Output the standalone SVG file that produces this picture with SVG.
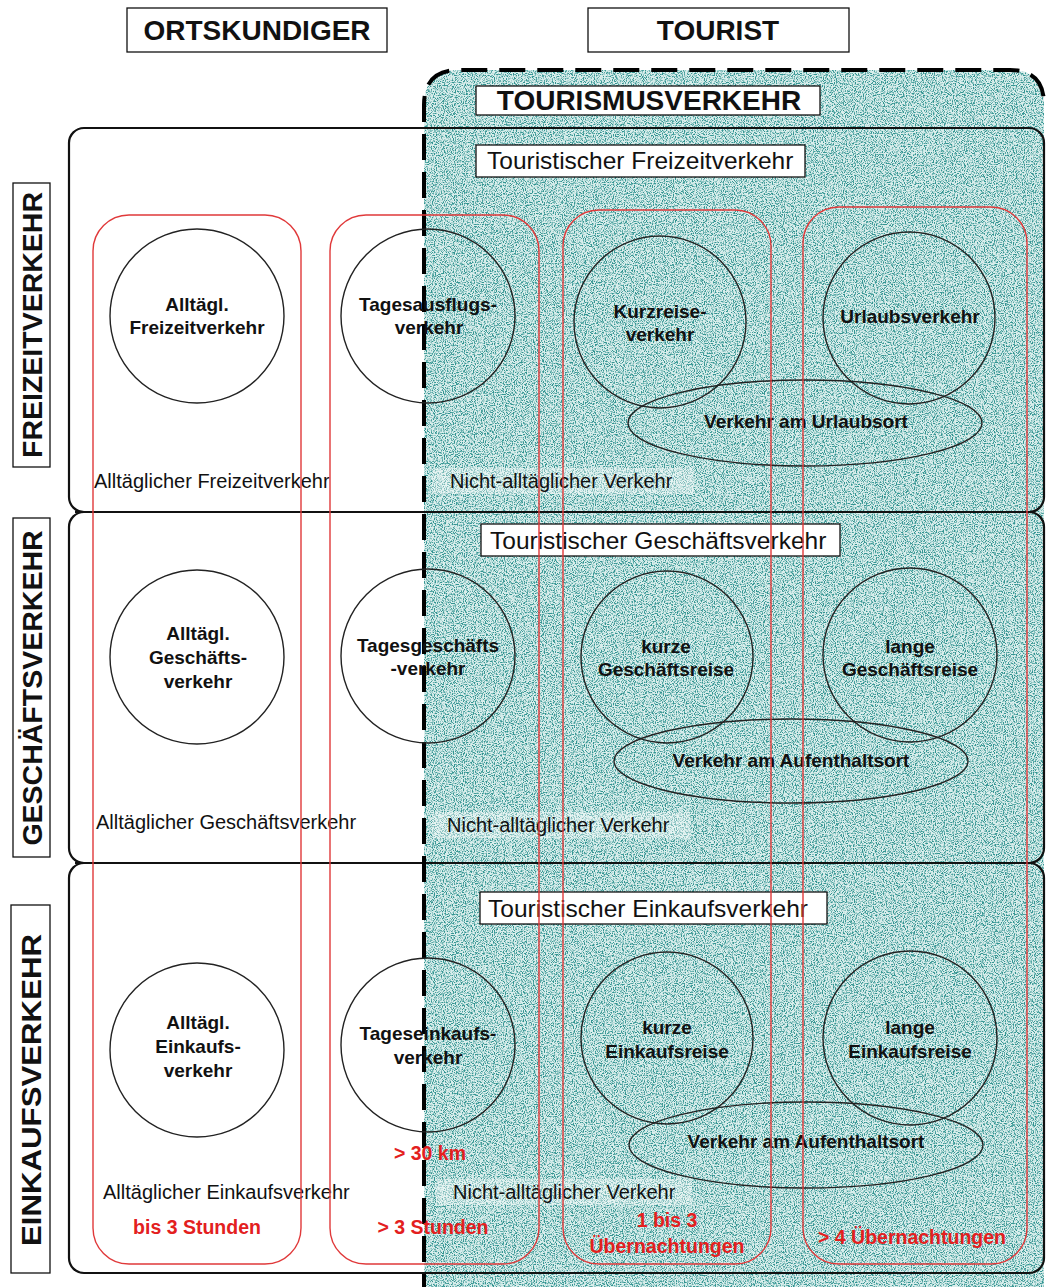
<svg xmlns="http://www.w3.org/2000/svg" width="1046" height="1287" viewBox="0 0 1046 1287">
  <style>
    text { font-family: "Liberation Sans", Arial, sans-serif; fill: #111; }
    .hdr { font-size: 28px; font-weight: bold; text-anchor: middle; }
    .side { font-size: 28.5px; font-weight: bold; text-anchor: middle; }
    .sub { font-size: 24.5px; }
    .node { font-size: 19px; font-weight: bold; text-anchor: middle; }
    .lbl { font-size: 20px; }
    .red { font-size: 19.5px; font-weight: bold; fill: #e3201e; text-anchor: middle; }
    .box { fill: #fff; stroke: #111; stroke-width: 1.3; }
    .row { fill: none; stroke: #111; stroke-width: 2.2; }
    .circ { fill: none; stroke: #222; stroke-width: 1.4; }
    .col { fill: none; stroke: #e0393a; stroke-width: 1.4; }
  </style>
  <defs>
    <filter id="grain" x="0" y="0" width="1" height="1" color-interpolation-filters="sRGB">
      <feTurbulence type="fractalNoise" baseFrequency="0.9" numOctaves="2" seed="4" result="noise"/>
      <feColorMatrix in="noise" type="matrix" values="0 0 0 0 0.2  0 0 0 0 0.58  0 0 0 0 0.57  4.5 0 0 0 -2.05" result="dots"/>
      <feComposite in="dots" in2="SourceGraphic" operator="in"/>
    </filter>
    <path id="area" d="M424 1300 L424 105 Q424 70 459 70 L1010 70 Q1044 70 1044 104 L1044 1300 Z"/>
  </defs>

  <rect width="1046" height="1287" fill="#fff"/>

  <!-- tourism area: light teal base with speckle -->
  <g id="tourism-area">
    <use href="#area" fill="#d9eeec"/>
    <use href="#area" fill="#000" filter="url(#grain)"/>
  </g>

  <!-- label strips -->
  <g id="label-strips">
    <rect x="70" y="468" width="268" height="26" fill="#fff"/>
    <rect x="432" y="468" width="262" height="26" fill="#fff" fill-opacity="0.35"/>
    <rect x="70" y="809" width="296" height="26" fill="#fff"/>
    <rect x="432" y="812" width="258" height="26" fill="#fff" fill-opacity="0.35"/>
    <rect x="70" y="1179" width="352" height="26" fill="#fff"/>
    <rect x="436" y="1179" width="256" height="26" fill="#fff" fill-opacity="0.35"/>
  </g>

  <!-- traffic-purpose rows -->
  <g id="rows">
    <rect class="row" x="69" y="128" width="975" height="384" rx="15"/>
    <rect class="row" x="69" y="512" width="975" height="351" rx="15"/>
    <rect class="row" x="69" y="863" width="975" height="410" rx="15"/>
    <path class="row" d="M75 512 H86 M75 863 H86"/>
  </g>

  <!-- dashed boundary of tourism traffic -->
  <path id="tourism-border" d="M424 1300 L424 105 Q424 70 459 70 L1010 70 Q1044 70 1044 104" fill="none" stroke="#000" stroke-width="4" stroke-dasharray="26 12"/>

  <!-- header boxes -->
  <g id="hdr-ortskundiger">
    <rect class="box" x="127" y="8" width="260" height="44"/>
    <text class="hdr" x="257" y="40">ORTSKUNDIGER</text>
  </g>
  <g id="hdr-tourist">
    <rect class="box" x="588" y="8" width="261" height="44"/>
    <text class="hdr" x="718" y="40">TOURIST</text>
  </g>
  <g id="hdr-tourismusverkehr">
    <rect class="box" x="476" y="86" width="344" height="29"/>
    <text class="hdr" x="649" y="110">TOURISMUSVERKEHR</text>
  </g>

  <!-- side labels -->
  <g id="side-freizeit">
    <rect class="box" x="13" y="183" width="37" height="284"/>
    <text class="side" transform="translate(42 325) rotate(-90)">FREIZEITVERKEHR</text>
  </g>
  <g id="side-geschaeft">
    <rect class="box" x="13" y="518" width="37" height="339"/>
    <text class="side" transform="translate(42 688) rotate(-90)">GESCHÄFTSVERKEHR</text>
  </g>
  <g id="side-einkauf">
    <rect class="box" x="11" y="905" width="39" height="368"/>
    <text class="side" transform="translate(41 1090) rotate(-90)" textLength="312" lengthAdjust="spacingAndGlyphs">EINKAUFSVERKEHR</text>
  </g>

  <!-- tourist sub-category boxes -->
  <g id="sub-freizeit">
    <rect class="box" x="476" y="145" width="329" height="32"/>
    <text class="sub" x="487" y="169">Touristischer Freizeitverkehr</text>
  </g>
  <g id="sub-geschaeft">
    <rect class="box" x="481" y="524" width="359" height="32"/>
    <text class="sub" x="490" y="549">Touristischer Geschäftsverkehr</text>
  </g>
  <g id="sub-einkauf">
    <rect class="box" x="480" y="892" width="347" height="32"/>
    <text class="sub" x="488" y="917">Touristischer Einkaufsverkehr</text>
  </g>

  <!-- Freizeit row -->
  <g id="n-alltag-freizeit">
    <circle class="circ" cx="197" cy="316" r="87"/>
    <text class="node" x="197" y="311">Alltägl.</text>
    <text class="node" x="197" y="334">Freizeitverkehr</text>
  </g>
  <g id="n-tagesausflug">
    <circle class="circ" cx="428" cy="316" r="87"/>
    <text class="node" x="428" y="311">Tagesausflugs-</text>
    <text class="node" x="429" y="334">verkehr</text>
  </g>
  <g id="n-kurzreise">
    <circle class="circ" cx="660" cy="322" r="86"/>
    <text class="node" x="660" y="318">Kurzreise-</text>
    <text class="node" x="660" y="341">verkehr</text>
  </g>
  <g id="n-urlaub">
    <circle class="circ" cx="909" cy="318" r="86"/>
    <text class="node" x="910" y="323">Urlaubsverkehr</text>
  </g>
  <g id="n-urlaubsort">
    <ellipse class="circ" cx="805" cy="423" rx="177" ry="43"/>
    <text class="node" x="806" y="428">Verkehr am Urlaubsort</text>
  </g>

  <!-- Geschäft row -->
  <g id="n-alltag-geschaeft">
    <circle class="circ" cx="197" cy="657" r="87"/>
    <text class="node" x="198" y="640">Alltägl.</text>
    <text class="node" x="198" y="664">Geschäfts-</text>
    <text class="node" x="198" y="688">verkehr</text>
  </g>
  <g id="n-tagesgeschaeft">
    <circle class="circ" cx="428" cy="656" r="87"/>
    <text class="node" x="428" y="652">Tagesgeschäfts</text>
    <text class="node" x="428" y="675">-verkehr</text>
  </g>
  <g id="n-kurz-geschaeft">
    <circle class="circ" cx="667" cy="657" r="86"/>
    <text class="node" x="666" y="653">kurze</text>
    <text class="node" x="666" y="676">Geschäftsreise</text>
  </g>
  <g id="n-lang-geschaeft">
    <circle class="circ" cx="910" cy="655" r="87"/>
    <text class="node" x="910" y="653">lange</text>
    <text class="node" x="910" y="676">Geschäftsreise</text>
  </g>
  <g id="n-aufenthalt-1">
    <ellipse class="circ" cx="791" cy="761" rx="177" ry="42"/>
    <text class="node" x="791" y="767">Verkehr am Aufenthaltsort</text>
  </g>

  <!-- Einkauf row -->
  <g id="n-alltag-einkauf">
    <circle class="circ" cx="197" cy="1050" r="87"/>
    <text class="node" x="198" y="1029">Alltägl.</text>
    <text class="node" x="198" y="1053">Einkaufs-</text>
    <text class="node" x="198" y="1077">verkehr</text>
  </g>
  <g id="n-tageseinkauf">
    <circle class="circ" cx="428" cy="1045" r="87"/>
    <text class="node" x="428" y="1040">Tageseinkaufs-</text>
    <text class="node" x="428" y="1064">verkehr</text>
  </g>
  <g id="n-kurz-einkauf">
    <circle class="circ" cx="667" cy="1038" r="86"/>
    <text class="node" x="667" y="1034">kurze</text>
    <text class="node" x="667" y="1058">Einkaufsreise</text>
  </g>
  <g id="n-lang-einkauf">
    <circle class="circ" cx="910" cy="1038" r="87"/>
    <text class="node" x="910" y="1034">lange</text>
    <text class="node" x="910" y="1058">Einkaufsreise</text>
  </g>
  <g id="n-aufenthalt-2">
    <ellipse class="circ" cx="806" cy="1145" rx="177" ry="43"/>
    <text class="node" x="806" y="1148">Verkehr am Aufenthaltsort</text>
  </g>

  <!-- row captions -->
  <g id="captions">
    <text class="lbl" x="94" y="488">Alltäglicher Freizeitverkehr</text>
    <text class="lbl" x="450" y="488">Nicht-alltäglicher Verkehr</text>
    <text class="lbl" x="96" y="829">Alltäglicher Geschäftsverkehr</text>
    <text class="lbl" x="447" y="832">Nicht-alltäglicher Verkehr</text>
    <text class="lbl" x="103" y="1199">Alltäglicher Einkaufsverkehr</text>
    <text class="lbl" x="453" y="1199">Nicht-alltäglicher Verkehr</text>
  </g>

  <!-- duration columns -->
  <g id="col-bis3h">
    <rect class="col" x="93" y="215" width="208" height="1049" rx="36"/>
    <text class="red" x="197" y="1234">bis 3 Stunden</text>
  </g>
  <g id="col-ueber3h">
    <rect class="col" x="330" y="215" width="209" height="1049" rx="36"/>
    <text class="red" x="430" y="1160">&gt; 30 km</text>
    <text class="red" x="433" y="1234">&gt; 3 Stunden</text>
  </g>
  <g id="col-1bis3">
    <rect class="col" x="563" y="210" width="208" height="1054" rx="36"/>
    <text class="red" x="667" y="1227">1 bis 3</text>
    <text class="red" x="667" y="1253">Übernachtungen</text>
  </g>
  <g id="col-ueber4">
    <rect class="col" x="803" y="207" width="224" height="1057" rx="36"/>
    <text class="red" x="912" y="1244">&gt; 4 Übernachtungen</text>
  </g>
</svg>
